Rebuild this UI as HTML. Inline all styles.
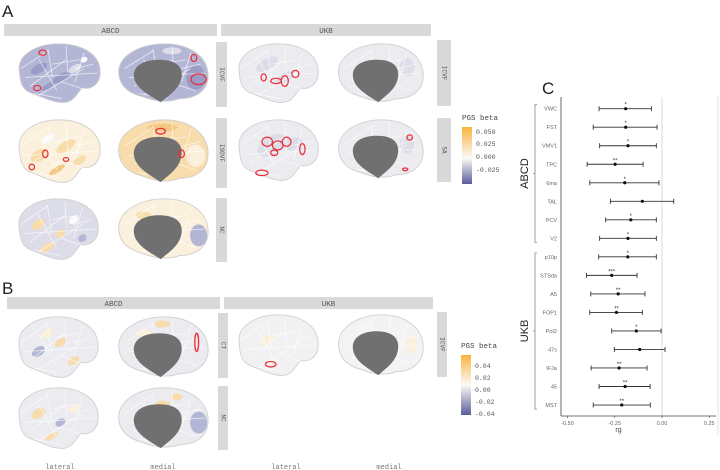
<!DOCTYPE html>
<html><head><meta charset="utf-8"><style>
body{margin:0;background:#fff;width:720px;height:470px;overflow:hidden;font-family:"Liberation Sans",sans-serif}
svg{position:absolute;left:0;top:0}
.m{font-family:"Liberation Mono",monospace}
</style></head><body>
<svg id="fig" width="720" height="470" viewBox="0 0 720 470">
<defs>
<linearGradient id="gA" x1="0" y1="0" x2="0" y2="1"><stop offset="0" stop-color="#f9b33f"/><stop offset="0.55" stop-color="#fbfaf8"/><stop offset="1" stop-color="#5a5e9a"/></linearGradient>
<linearGradient id="gB" x1="0" y1="0" x2="0" y2="1"><stop offset="0" stop-color="#f9b33f"/><stop offset="0.5" stop-color="#fbfaf8"/><stop offset="1" stop-color="#5a5e9a"/></linearGradient>
</defs>
<g id="brains"></g>
<g id="forest"></g>
</svg>
<script>
const NS='http://www.w3.org/2000/svg';
function el(p,t,a,txt){const e=document.createElementNS(NS,t);for(const k in a)e.setAttribute(k,a[k]);if(txt!==undefined)e.textContent=txt;p.appendChild(e);return e;}
const B=document.getElementById('brains');
let t;
t=el(B,'text',{x:2,y:17,'font-size':17,fill:'#222'},'A');
t=el(B,'text',{x:2,y:294,'font-size':17,fill:'#222'},'B');
t=el(B,'text',{x:542,y:94,'font-size':17,fill:'#222'},'C');
function strip(x,y,w,h,label,rot,name){const g=el(B,'g',{});
 el(g,'rect',{x:x,y:y,width:w,height:h,fill:'#d9d9d9'});
 if(rot){el(g,'text',{x:x+w/2,y:y+h/2,'font-size':6,fill:'#555','text-anchor':'middle','class':'m',transform:`rotate(90 ${x+w/2} ${y+h/2})`,'dominant-baseline':'middle'},label);}
 else el(g,'text',{x:x+w/2,y:y+h/2+3,'font-size':7.5,fill:'#555','text-anchor':'middle','class':'m'},label);}
strip(4,24,213,12,'ABCD',0,'strip-a-abcd');strip(221,24,210,12,'UKB',0,'strip-a-ukb');
strip(216,42,11,65,'ICVF',1,'strip-a-icvf');strip(216,118,11,70,'ISOVF',1,'strip-a-isovf');strip(216,198,11,64,'NC',1,'strip-a-nc');
strip(437,40,14,66,'ICVF',1,'strip-a-ukb-icvf');strip(437,118,14,64,'SA',1,'strip-a-ukb-sa');
strip(7,297,213,12,'ABCD',0,'strip-b-abcd');strip(224,297,209,12,'UKB',0,'strip-b-ukb');
strip(218,313,10,65,'CT',1,'strip-b-ct');strip(218,386,10,64,'NC',1,'strip-b-nc');strip(437,312,10,65,'ICVF',1,'strip-b-ukb-icvf');
// parcel texture lines
function parcels(g){const L=[[10,30,40,10],[20,50,60,20],[30,60,80,30],[40,8,45,40],[60,5,62,35],[80,12,70,45],[15,40,95,35],[30,20,50,55],[55,45,85,55],[70,30,90,25],[25,58,55,64],[45,25,75,20]];
 L.forEach(l=>el(g,'line',{x1:l[0],y1:l[1],x2:l[2],y2:l[3],stroke:'#ffffff','stroke-width':0.9,opacity:0.7}));}
function lateral(x,y,w,h,fill,name,patches,reds){const g=el(B,'g',{transform:`translate(${x},${y}) scale(${w/100},${h/70})`});
 
 el(g,'path',{d:'M8,32 C6,14 28,2 52,2 C78,2 98,14 98,34 C98,48 88,54 78,52 C72,58 70,66 60,68 C48,70 34,62 22,58 C10,54 9,44 8,32Z',fill:fill,stroke:'#d0d0d0','stroke-width':1});
 (patches||[]).forEach(p=>el(g,'ellipse',{cx:p[0],cy:p[1],rx:p[2],ry:p[3],fill:p[4],transform:`rotate(${p[5]||-30} ${p[0]} ${p[1]})`}));
 parcels(g);
 (reds||[]).forEach(p=>el(g,'ellipse',{cx:p[0],cy:p[1],rx:p[2],ry:p[3],fill:'none',stroke:'#e8323c','stroke-width':1.4}));}
function medial(x,y,w,h,fill,name,patches,reds){const g=el(B,'g',{transform:`translate(${x},${y}) scale(${w/100},${h/70})`});
 
 el(g,'path',{d:'M4,36 C2,16 26,2 52,2 C78,2 98,16 98,38 C98,54 86,64 68,64 C58,68 44,68 30,62 C14,58 5,50 4,36Z',fill:fill,stroke:'#d0d0d0','stroke-width':1});
 (patches||[]).forEach(p=>el(g,'ellipse',{cx:p[0],cy:p[1],rx:p[2],ry:p[3],fill:p[4],transform:`rotate(${p[5]||0} ${p[0]} ${p[1]})`}));
 parcels(g);
 el(g,'path',{d:'M20,40 C18,26 32,20 46,20 C62,20 72,26 70,40 C68,52 60,58 48,68 C40,62 22,54 20,40Z',fill:'#707070'});
 (reds||[]).forEach(p=>el(g,'ellipse',{cx:p[0],cy:p[1],rx:p[2],ry:p[3],fill:'none',stroke:'#e8323c','stroke-width':1.4}));}
const blu='#b4b6d6',blu2='#9a9cc6',lb='#dcdde8',vl='#ebebf0',org='#f8dcab',org2='#f4c783',cr='#fbf0dc',wh='#fafafa';
lateral(12,42,90,62,blu,'brain-a-abcd-icvf-lateral',[[30,30,10,5,blu2],[55,40,12,4,blu2],[70,30,8,4,lb],[40,50,8,3,blu2],[80,20,4,3,wh]],[[34,12,4,3],[28,52,4,3]]);
medial(115,42,95,62,blu,'brain-a-abcd-icvf-medial',[[85,40,10,14,blu2],[60,10,10,4,lb]],[[83,18,3,4],[88,42,8,6]]);
lateral(232,42,88,62,vl,'brain-a-ukb-icvf-lateral',[[40,25,14,6,lb],[60,40,12,5,lb]],[[36,40,3,4],[50,44,6,3],[60,44,4,6],[72,36,4,4]]);
medial(335,42,90,62,vl,'brain-a-ukb-icvf-medial',[[80,28,8,10,lb]],[]);
lateral(12,118,90,66,cr,'brain-a-abcd-isovf-lateral',[[30,40,10,6,org],[60,30,12,5,org],[75,45,8,4,org],[50,55,10,3,org2],[40,22,8,4,wh]],[[37,38,3,4],[60,44,3,2],[22,52,3,3]]);
medial(115,118,95,66,org,'brain-a-abcd-isovf-medial',[[50,10,16,4,org2],[85,40,10,12,cr]],[[48,14,5,3],[70,38,3,4]]);
lateral(232,118,88,64,vl,'brain-a-ukb-sa-lateral',[[45,30,18,10,lb],[70,28,10,8,lb]],[[40,26,6,5],[52,30,6,5],[62,26,5,5],[48,38,4,3],[80,34,3,6],[34,60,7,3]]);
medial(335,118,90,62,vl,'brain-a-ukb-sa-medial',[[80,30,8,10,lb]],[[83,22,3,3],[78,58,3,1.5]]);
lateral(12,197,88,64,lb,'brain-a-abcd-nc-lateral',[[30,30,8,5,org],[55,40,6,4,org],[40,55,10,4,org],[70,25,6,4,wh],[80,45,5,4,blu]],[]);
medial(115,197,95,64,cr,'brain-a-abcd-nc-medial',[[88,42,9,12,blu],[30,20,8,4,org]],[]);
lateral(12,315,88,64,vl,'brain-b-abcd-ct-lateral',[[30,40,8,5,blu],[55,30,7,4,org],[70,50,7,4,org],[40,20,8,4,cr]],[]);
medial(115,315,95,64,vl,'brain-b-abcd-ct-medial',[[30,20,8,4,cr],[50,10,8,4,org]],[[86,30,2,10]]);
lateral(232,313,88,64,'#f1f1f4','brain-b-ukb-icvf-lateral',[[40,30,10,5,cr]],[[44,56,6,3]]);
medial(335,313,90,64,'#f3f3f4','brain-b-ukb-icvf-medial',[[85,35,6,10,cr]],[]);
lateral(12,386,88,64,vl,'brain-b-abcd-nc-lateral',[[30,30,8,5,org],[55,40,6,4,blu],[45,55,8,3,org],[70,25,6,4,cr]],[]);
medial(115,386,95,64,vl,'brain-b-abcd-nc-medial',[[88,40,9,12,blu],[65,12,6,4,org],[50,20,8,4,org]],[]);
function legend(x,y,h,grad,labels,ly,name){const g=el(B,'g',{});
 el(g,'text',{x:x,y:y-7,'font-size':7.5,fill:'#444','class':'m'},'PGS beta');
 el(g,'rect',{x:x,y:y,width:10,height:h,fill:`url(#${grad})`});
 labels.forEach((l,i)=>el(g,'text',{x:x+14,y:ly[i]+2,'font-size':6.5,fill:'#555','class':'m'},l));}
legend(462,127,57,'gA',['0.050','0.025','0.000','-0.025'],[132,144,157,170],'legend-a');
legend(461,355,60,'gB',['0.04','0.02','0.00','-0.02','-0.04'],[366,378,390,402,414],'legend-b');
[['lateral',60],['medial',163],['lateral',286],['medial',389]].forEach((d,i)=>{const e=el(B,'text',{x:d[1],y:469,'font-size':7,fill:'#777','class':'m','text-anchor':'middle'},d[0]);});
</script>
<script>
const regions=['VWC','FST','VMV1','TPC','6ma','TAL','PCV','V2','p10p','STSda','A5','FOP1','PoI2','47s','IFJa','45','MST'];
const est=[-0.192,-0.192,-0.18,-0.248,-0.197,-0.104,-0.165,-0.18,-0.181,-0.266,-0.232,-0.241,-0.136,-0.118,-0.227,-0.195,-0.213];
const lower=[-0.333,-0.364,-0.33,-0.396,-0.382,-0.273,-0.298,-0.33,-0.335,-0.40,-0.377,-0.382,-0.266,-0.252,-0.375,-0.333,-0.364];
const upper=[-0.056,-0.026,-0.03,-0.10,-0.016,0.062,-0.03,-0.03,-0.03,-0.132,-0.09,-0.104,-0.005,0.016,-0.079,-0.063,-0.062];
const stars=['*','*','*','**','*','','*','*','*','***','**','**','*','','**','**','**'];
const xticks=[-0.5,-0.25,0,0.25];
const xtickLabels=['-0.50','-0.25','0.00','0.25'];
const groups=['ABCD','UKB'];
const groupSizes=[8,9];
const F=document.getElementById('forest');
const X0=561,X1=716,Y0=97,Y1=416;
const xs=v=>662+v*189;
const ys=i=>108.7+i*18.52;
function mk(t,a,txt){const e=document.createElementNS(NS,t);for(const k in a)e.setAttribute(k,a[k]);if(txt!==undefined)e.textContent=txt;F.appendChild(e);return e;}
let e;
e=mk('line',{x1:xs(0),x2:xs(0),y1:Y0,y2:Y1,stroke:'#d8d8d8','stroke-width':1});
e=mk('line',{x1:X0,x2:X0,y1:Y0,y2:Y1,stroke:'#444','stroke-width':0.8});
e=mk('line',{x1:X0,x2:X1,y1:Y1,y2:Y1,stroke:'#444','stroke-width':0.8});
e=mk('line',{x1:718,x2:718,y1:95,y2:435,stroke:'#ddd','stroke-width':0.8});
xticks.forEach((v,i)=>{e=mk('line',{x1:xs(v),x2:xs(v),y1:Y1,y2:Y1+2,stroke:'#444','stroke-width':0.6});
 e=mk('text',{x:xs(v),y:Y1+9,'font-size':5.5,fill:'#666','text-anchor':'middle'},xtickLabels[i]);});
e=mk('text',{x:(X0+X1)/2-20,y:432,'font-size':7,fill:'#444','text-anchor':'middle'},'rg');
regions.forEach((r,i)=>{const y=ys(i);
 e=mk('text',{x:557,y:y+2,'font-size':5.5,fill:'#666','text-anchor':'end'},r);
 e=mk('line',{x1:xs(lower[i]),x2:xs(upper[i]),y1:y,y2:y,stroke:'#333','stroke-width':0.9});
 [lower[i],upper[i]].forEach(v=>{e=mk('line',{x1:xs(v),x2:xs(v),y1:y-2.5,y2:y+2.5,stroke:'#333','stroke-width':0.9});});
 e=mk('circle',{cx:xs(est[i]),cy:y,r:1.6,fill:'#111'});
 if(stars[i]){e=mk('text',{x:xs(est[i]),y:y-2,'font-size':6,fill:'#333','text-anchor':'middle'},stars[i]);}
});
let start=0;
groups.forEach((g,gi)=>{const a=ys(start)-4,b=ys(start+groupSizes[gi]-1)+4,m=(a+b)/2;
 e=mk('path',{d:`M537,${a} H535 V${b} H537 M535,${m} H533`,fill:'none',stroke:'#888','stroke-width':0.8});
 e=mk('text',{x:528,y:m,'font-size':11,fill:'#222','text-anchor':'middle',transform:`rotate(-90 528 ${m})`},g);
 start+=groupSizes[gi];});
</script>
</body></html>
